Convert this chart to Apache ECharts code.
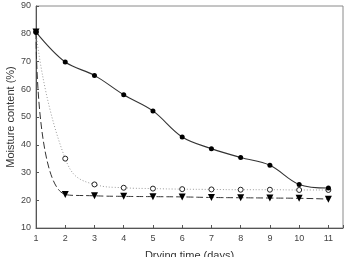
<!DOCTYPE html>
<html>
<head>
<meta charset="utf-8">
<script src="https://cdn.jsdelivr.net/npm/echarts@6/dist/echarts.min.js"></script>
<style>
  html, body { margin: 0; padding: 0; background: #fff; }
  #chart { width: 344px; height: 257px; }
</style>
</head>
<body>
<div id="chart"></div>
<script>
// drying time in days
var days = [1, 2, 3, 4, 5, 6, 7, 8, 9, 10, 11];
// moisture content (%) for the three drying methods
var solidDots = [80.6, 69.8, 65.0, 58.0, 52.2, 42.8, 38.6, 35.4, 32.6, 25.7, 24.4];
var openDots = [80.6, 35.0, 25.7, 24.5, 24.2, 24.0, 23.9, 23.8, 23.8, 23.7, 23.7];
var triangles = [80.6, 22.1, 21.6, 21.4, 21.3, 21.2, 21.0, 20.9, 20.8, 20.7, 20.4];

function pairs(ys) {
    return days.map(function (d, i) { return [d, ys[i]]; });
}

var chart = echarts.init(document.getElementById('chart'));

var option = {
    animation: false,
    grid: {
        left: 36, right: 1, top: 6, bottom: 29,
        outerBoundsMode: 'none',
        containLabel: false,
        show: true, borderColor: '#8a8a8a', borderWidth: 1
    },
    xAxis: {
        type: 'value',
        min: 1, max: 11.5, interval: 1,
        name: 'Drying time (days)',
        nameLocation: 'middle',
        nameGap: 22,
        nameMoveOverlap: false,
        nameTextStyle: { fontFamily: 'Liberation Sans', fontSize: 11, color: '#333' },
        splitLine: { show: false },
        axisLine: { lineStyle: { color: '#555', width: 1 } },
        axisTick: { inside: true, length: 3, lineStyle: { color: '#555' } },
        axisLabel: {
            fontFamily: 'Liberation Sans', fontSize: 9, color: '#444', margin: 6,
            formatter: function (v) { return v % 1 === 0 ? String(v) : ''; }
        }
    },
    yAxis: {
        type: 'value',
        min: 10, max: 90, interval: 10,
        name: 'Moisture content (%)',
        nameLocation: 'middle',
        nameGap: 20,
        nameMoveOverlap: false,
        nameTextStyle: { fontFamily: 'Liberation Sans', fontSize: 11, color: '#333' },
        splitLine: { show: false },
        axisLine: { show: true, lineStyle: { color: '#555', width: 1 } },
        axisTick: { show: true, inside: true, length: 3, lineStyle: { color: '#555' } },
        axisLabel: { fontFamily: 'Liberation Sans', fontSize: 9, color: '#444', margin: 5 }
    },
    series: [
        {
            type: 'line',
            data: pairs(solidDots),
            smooth: 0.35,
            symbol: 'circle', symbolSize: 5,
            itemStyle: { color: '#000' },
            lineStyle: { color: '#333', width: 1.1 },
            z: 3
        },
        {
            type: 'line',
            data: pairs(openDots),
            smooth: 0.5,
            symbol: 'circle', symbolSize: 5,
            itemStyle: { color: '#fff', borderColor: '#222', borderWidth: 1 },
            lineStyle: { color: '#999', width: 1, type: [1, 2] },
            z: 2
        },
        {
            type: 'line',
            data: pairs(triangles),
            smooth: 0.6,
            symbol: 'triangle', symbolSize: 7, symbolRotate: 180,
            itemStyle: { color: '#000' },
            lineStyle: { color: '#333', width: 1, type: [7, 3] },
            z: 2
        }
    ]
};

chart.setOption(option);
</script>
</body>
</html>
